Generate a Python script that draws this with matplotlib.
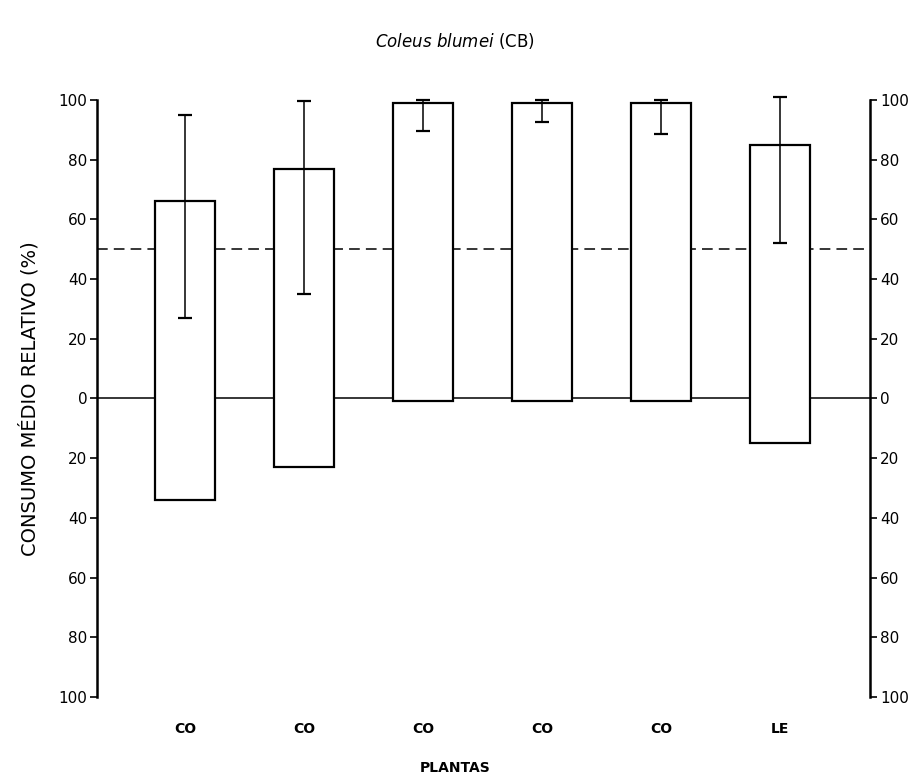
import matplotlib
matplotlib.use("Agg")
import matplotlib.pyplot as plt
import numpy as np
from matplotlib.ticker import FuncFormatter

plantas = ["CO", "CO", "CO", "CO", "CO", "LE"]
consumo_pos = [66, 77, 99, 99, 99, 85]   # upper part of each bar (%)
consumo_neg = [34, 23, 1, 1, 1, 15]      # lower part, plotted downward
erro_inf = [27, 35, 89.5, 92.5, 88.5, 52]
erro_sup = [95, 99.5, 100, 100, 100, 101]
yticks = [-100, -80, -60, -40, -20, 0, 20, 40, 60, 80, 100]

plt.rcParams["font.family"] = ["DejaVu Sans"]

fig = plt.figure(figsize=(9.16, 7.81), dpi=100)
ax = fig.add_axes([0.106, 0.1076, 0.844, 0.7644])

x = np.arange(len(plantas))
heights = np.array(consumo_pos) + np.array(consumo_neg)
ax.bar(x, heights, bottom=-np.array(consumo_neg), width=0.5,
       facecolor="white", edgecolor="black", linewidth=1.6, zorder=2)

mid = (np.array(erro_inf) + np.array(erro_sup)) / 2
yerr = [mid - np.array(erro_inf), np.array(erro_sup) - mid]
eb = ax.errorbar(x, mid, yerr=yerr, fmt="none", ecolor="black",
                 elinewidth=1.1, capsize=5, capthick=1.6, zorder=3)
for art in eb.lines[1] + eb.lines[2]:
    art.set_clip_on(False)

ax.axhline(0, color="black", linewidth=1.1, zorder=1)
ax.axhline(50, color="black", linewidth=1.1, linestyle=(0, (7, 4)), zorder=1)

ax.set_xlim(-0.74, 5.76)
ax.set_ylim(-100, 100)
ax.set_yticks(yticks)
ax.yaxis.set_major_formatter(FuncFormatter(lambda v, p: f"{abs(v):.0f}"))
ax.tick_params(axis="y", direction="out", length=5, width=1.2,
               right=True, labelright=True, labelsize=11, pad=2)
ax.set_xticks(x)
ax.set_xticklabels(plantas, fontsize=10, fontweight="bold")
ax.tick_params(axis="x", length=0, pad=18)

for s in ["top", "bottom"]:
    ax.spines[s].set_visible(False)
for s in ["left", "right"]:
    ax.spines[s].set_linewidth(1.8)

ax.set_ylabel("CONSUMO MÉDIO RELATIVO (%)", fontsize=14, labelpad=14)
fig.text(0.497, 0.017, "PLANTAS", ha="center", va="center",
         fontsize=10, fontweight="bold")
fig.text(0.497, 0.947, r"$\it{Coleus\ blumei}$ (CB)", ha="center", va="center",
         fontsize=12)

fig.savefig("out.png", dpi=100, facecolor="white")
